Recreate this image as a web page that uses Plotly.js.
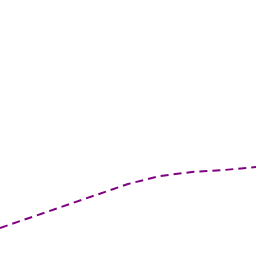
<!DOCTYPE html>
<html>
<head>
<meta charset="utf-8">
<script src="https://cdn.plot.ly/plotly-3.0.1.min.js"></script>
<style>html,body{margin:0;padding:0;background:#fff;}#chart{width:256px;height:256px;}</style>
</head>
<body>
<div id="chart"></div>
<script>
const xValues = [0, 64, 128, 160, 192, 224, 256];
const yValues = [28, 50, 72, 80, 84, 86, 89];

Plotly.newPlot('chart', [{
  x: xValues,
  y: yValues,
  type: 'scatter',
  mode: 'lines',
  line: {color: '#800080', width: 2, dash: '8px,5px'},
  hoverinfo: 'skip'
}], {
  width: 256, height: 256,
  margin: {l: 0, r: 0, t: 0, b: 0},
  paper_bgcolor: '#ffffff', plot_bgcolor: '#ffffff',
  showlegend: false,
  xaxis: {range: [0, 256], visible: false, fixedrange: true},
  yaxis: {range: [0, 256], visible: false, fixedrange: true}
}, {displayModeBar: false, staticPlot: true});
</script>
</body>
</html>
